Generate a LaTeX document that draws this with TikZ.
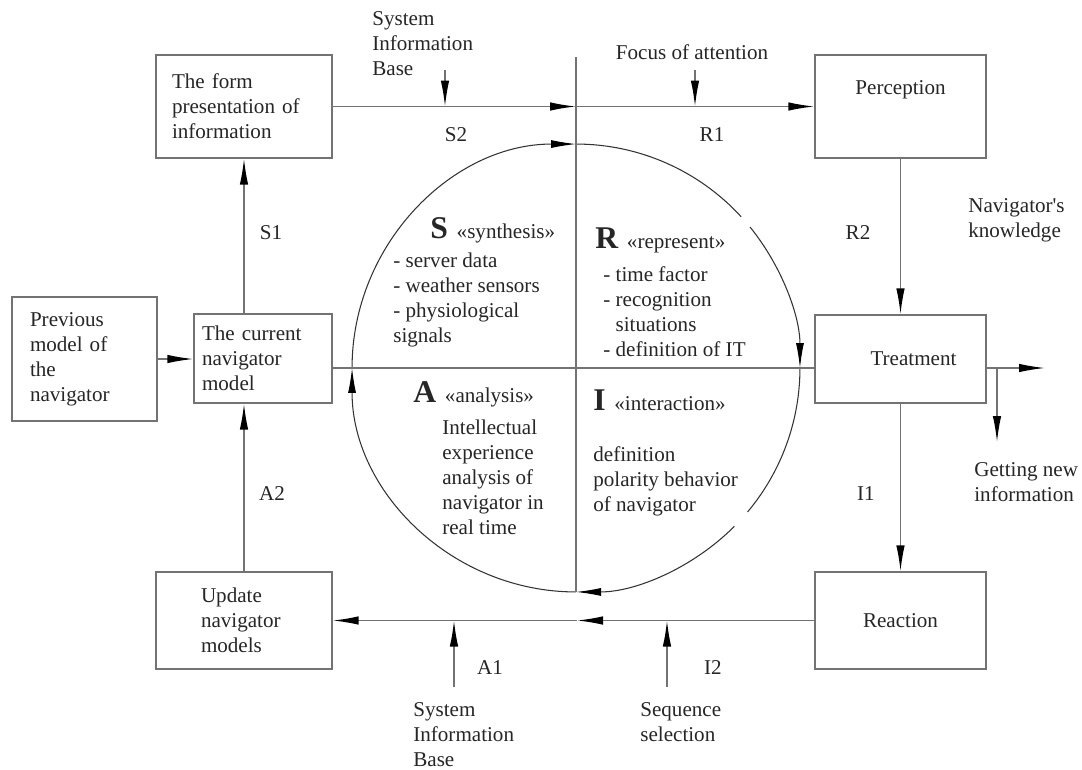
\documentclass[tikz,border=0pt]{standalone}
\usepackage{fontspec}
\setmainfont{Liberation Serif}
\usetikzlibrary{arrows.meta,calc}

\definecolor{linegray}{gray}{0.45}
\definecolor{textgray}{gray}{0.15}

\tikzset{
  box/.style={draw=linegray, line width=0.8pt, inner sep=0pt, text=textgray},
  lbl/.style={text=textgray, inner sep=0pt, align=left},
  qhead/.style={text=textgray, inner sep=0pt, anchor=base west},
  ln/.style={draw=linegray, line width=0.8pt},
  ar/.style={ln, -{Latex[length=0.52cm,width=0.17cm,color=black]}},
  circ/.style={draw=black!80, line width=0.6pt},
  carr/.style={circ, -{Latex[length=0.5cm,width=0.16cm,color=black]}},
}

\newcommand{\qletter}[1]{{\fontsize{18}{20}\selectfont\bfseries #1}}

\begin{document}
\begin{tikzpicture}[x=0.02cm, y=0.02cm, font=\fontsize{12}{14.2}\selectfont]
  \fill[white] (0,0) rectangle (1082,769);
  \useasboundingbox (0,0) rectangle (1082,769);

  % Boxes
  \node[box, minimum width=3.52cm, minimum height=2.06cm, text width=2.88cm, align=left] (form) at (244,662.5) {The form\\presentation of\\information};
  \node[box, minimum width=3.42cm, minimum height=2.06cm, text depth=22pt] (percep) at (900.5,662.5) {Perception};
  \node[box, minimum width=2.90cm, minimum height=2.48cm, text width=2.18cm, align=left] (prev) at (84.5,410) {Previous\\model of\\the\\navigator};
  \node[box, minimum width=2.76cm, minimum height=1.78cm, text width=2.44cm, align=left] (curr) at (263,410.5) {The current\\navigator\\model};
  \node[box, minimum width=3.42cm, minimum height=1.76cm] (treat) at (900.5,410) {\hspace*{0.52cm}Treatment};
  \node[box, minimum width=3.52cm, minimum height=1.94cm, text width=1.72cm, align=left] (update) at (244,148.5) {Update\\navigator\\models};
  \node[box, minimum width=3.42cm, minimum height=1.94cm] (react) at (900.5,148.5) {Reaction};

  % Circle
  \coordinate (ctr) at (576,401);
  \draw[carr] ($(ctr)+(180:4.48cm)$) arc[start angle=180, end angle=90, radius=4.48cm];
  \draw[circ] ($(ctr)+(90:4.48cm)$) arc[start angle=90, end angle=42.5, radius=4.48cm];
  \draw[carr] ($(ctr)+(39:4.48cm)$) arc[start angle=39, end angle=0, radius=4.48cm];
  \draw[circ] ($(ctr)+(0:4.48cm)$) arc[start angle=0, end angle=-40, radius=4.48cm];
  \draw[carr] ($(ctr)+(-45:4.48cm)$) arc[start angle=-45, end angle=-90, radius=4.48cm];
  \draw[carr] ($(ctr)+(-90:4.48cm)$) arc[start angle=-90, end angle=-180, radius=4.48cm];

  % Axes
  \coordinate (vtop) at (576,712);
  \draw[ln] (vtop) -- ($(ctr)+(0,-224)$);
  \draw[ln] (curr.east |- ctr) -- (treat.west |- ctr);

  % Top row
  \coordinate (j1) at (576,662.5);
  \draw[ar] (form.east) -- (j1);
  \draw[ar] (j1) -- (percep.west);
  \node[lbl, anchor=west] (sib1) at (372,725) {System\\Information\\Base};
  \coordinate (sib1a) at (445,699);
  \draw[ar] (sib1a) -- (sib1a |- j1);
  \node[lbl] (focus) at (692,717) {Focus of attention};
  \coordinate (focusa) at (695,699);
  \draw[ar] (focusa) -- (focusa |- j1);
  \node[lbl] (s2) at (456,634) {S2};
  \node[lbl] (r1) at (712,634) {R1};

  % Right column
  \draw[ar] (percep.south) -- (treat.north);
  \draw[ar] (treat.south) -- (react.north);
  \node[lbl] (r2) at (858,536) {R2};
  \node[lbl, anchor=west] (know) at (968,549) {Navigator\textquotesingle s\\knowledge};
  \node[lbl] (i1) at (866,275) {I1};
  \coordinate (tout) at (1045,401);
  \draw[ar] (treat.east |- ctr) -- (tout);
  \coordinate (gbr) at (997,401);
  \coordinate (gend) at (997,327);
  \draw[ar] (gbr) -- (gend);
  \node[lbl, anchor=west] (getnew) at (974,287) {Getting new\\information};

  % Bottom row
  \coordinate (j2) at (577,148.5);
  \draw[ar] (react.west) -- (j2);
  \draw[ar] (j2) -- (update.east);
  \coordinate (sib2a) at (454,82);
  \draw[ar] (sib2a) -- (sib2a |- j2);
  \coordinate (seqa) at (667,82);
  \draw[ar] (seqa) -- (seqa |- j2);
  \node[lbl] (a1) at (490,101) {A1};
  \node[lbl] (i2) at (713,101) {I2};
  \node[lbl, anchor=west] (sib2) at (413,34) {System\\Information\\Base};
  \node[lbl, anchor=west] (seq) at (640,47) {Sequence\\selection};

  % Left column
  \draw[ar] (prev.east) -- (prev.east -| curr.west);
  \draw[ar] (form |- curr.north) -- (form.south);
  \draw[ar] (update.north) -- (update |- curr.south);
  \node[lbl] (s1) at (271,536) {S1};
  \node[lbl] (a2) at (272,275) {A2};

  % Quadrants
  \node[qhead] (shead) at (430,531) {\qletter{S}\hspace{5pt}«synthesis»};
  \node[lbl, anchor=west] (sitems) at (393,469) {- server data\\- weather sensors\\- physiological\\signals};
  \node[qhead] (rhead) at (595,521) {\qletter{R}\hspace{5pt}«represent»};
  \node[lbl, anchor=west] (ritems) at (603,457) {- time factor\\- recognition\\\hphantom{- }situations\\- definition of IT};
  \node[qhead] (ahead) at (413,367) {\qletter{A}\hspace{5pt}«analysis»};
  \node[lbl, anchor=west] (aitems) at (442,292) {Intellectual\\experience\\analysis of\\navigator in\\real time};
  \node[qhead] (ihead) at (593,359) {\qletter{I}\hspace{5pt}«interaction»};
  \node[lbl, anchor=west] (iitems) at (593,288) {definition\\polarity behavior\\of navigator};
\end{tikzpicture}
\end{document}
